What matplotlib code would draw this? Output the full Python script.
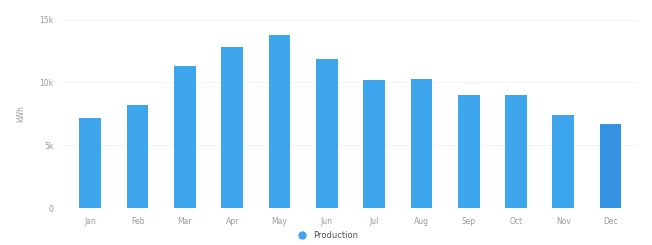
import matplotlib
matplotlib.use("Agg")
import matplotlib.pyplot as plt
from matplotlib.lines import Line2D

months = ["Jan", "Feb", "Mar", "Apr", "May", "Jun", "Jul", "Aug", "Sep", "Oct", "Nov", "Dec"]
production = [7200, 8200, 11300, 12800, 13800, 11900, 10200, 10300, 9000, 9000, 7400, 6700]
y_ticks = [0, 5000, 10000, 15000]
y_tick_labels = ["0", "5k", "10k", "15k"]

bar_color = "#3ea6ec"
text_color = "#9a9a9a"

fig = plt.figure(figsize=(6.52, 2.45), dpi=100)
ax = fig.add_axes([0.095, 0.15, 0.885, 0.77])

x = list(range(len(months)))
colors = [bar_color] * 11 + ["#3492e2"]
ax.bar(x, production, width=0.46, color=colors, zorder=2)

ax.set_xlim(-0.6, len(months) - 0.4)
ax.set_ylim(0, 15000)
ax.set_yticks(y_ticks)
ax.set_yticklabels(y_tick_labels)
ax.set_xticks(x)
ax.set_xticklabels(months)
ax.tick_params(axis="both", length=0, labelsize=5.5, colors=text_color, pad=6)
ax.set_ylabel("kWh", fontsize=5.5, color=text_color, labelpad=10)
for s in ax.spines.values():
    s.set_visible(False)
ax.grid(axis="y", color="#f2f2f2", linewidth=0.6, zorder=0)

handle = Line2D([], [], marker="o", linestyle="none", markersize=5,
                markerfacecolor=bar_color, markeredgecolor=bar_color)
fig.legend([handle], ["Production"], loc="lower center", bbox_to_anchor=(0.5, -0.01),
           frameon=False, fontsize=6, handletextpad=0.4, labelcolor="#555555")

fig.savefig("out.png", dpi=100, facecolor="white")
